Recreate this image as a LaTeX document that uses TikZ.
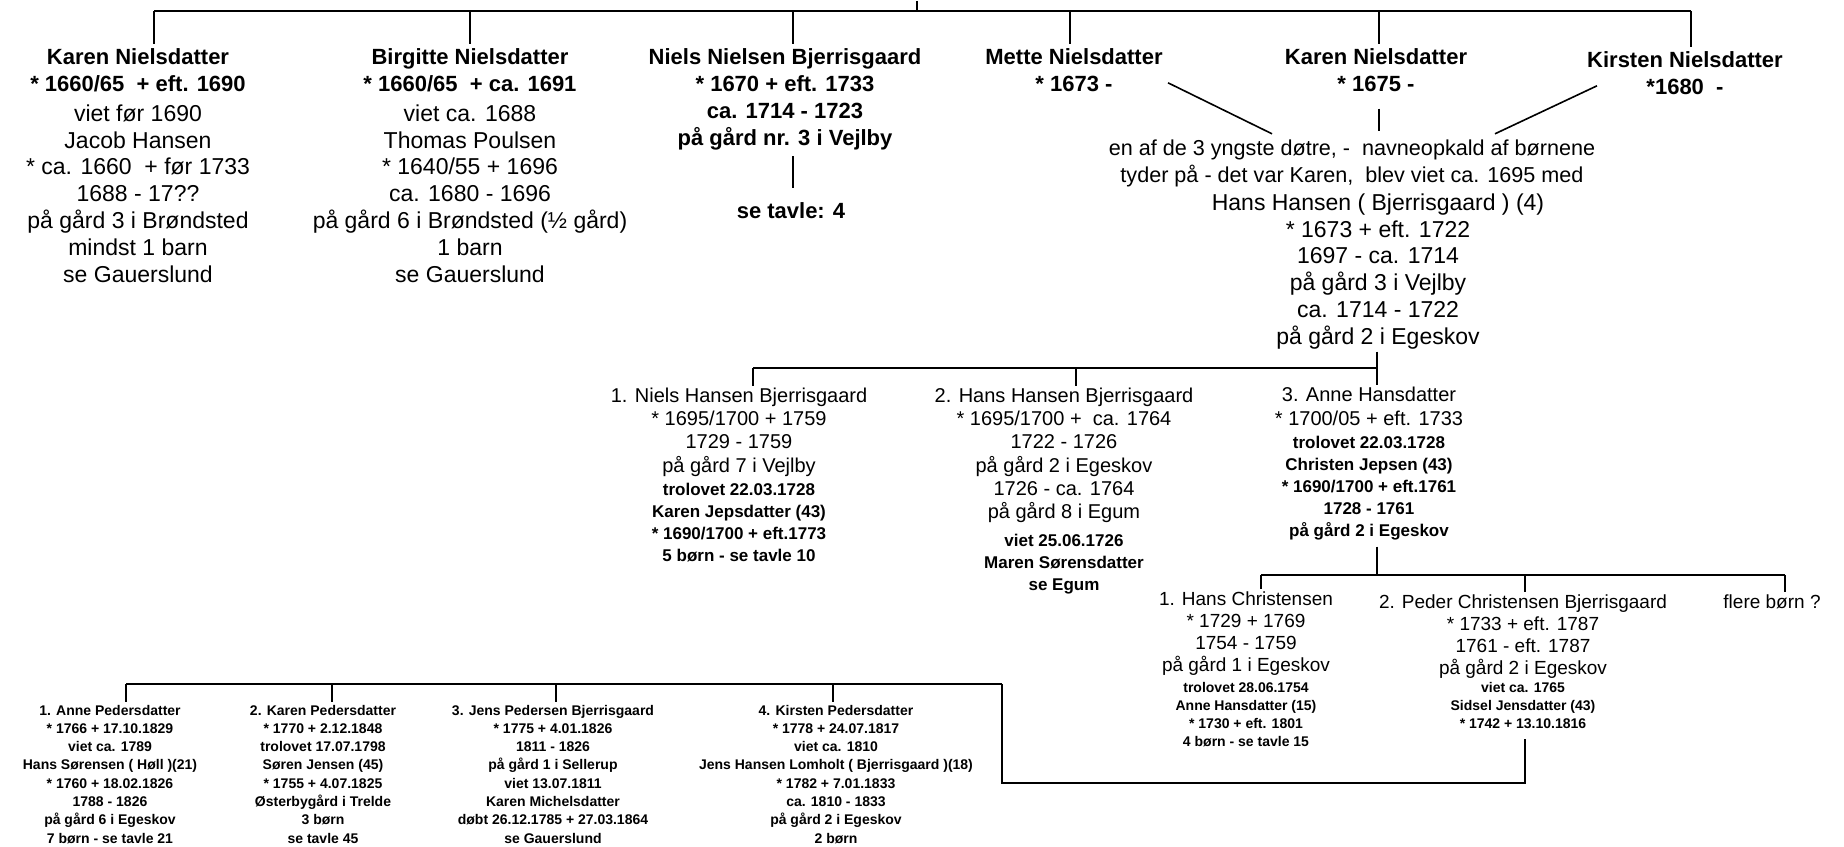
\documentclass[tikz,border=0pt]{standalone}
\usepackage{fontspec}
\setmainfont{Liberation Sans}

\begin{document}
\begin{tikzpicture}[x=0.5pt,y=-0.5pt]
\tikzset{
  every node/.style={inner sep=0pt,anchor=north,align=center},
  parent/.style={font=\fontsize{11}{13.5}\selectfont\bfseries},
  parentinfo/.style={font=\fontsize{11.5}{13.4}\selectfont},
  remark/.style={font=\fontsize{10.8}{13.2}\selectfont},
  child/.style={font=\fontsize{10}{11.6}\selectfont},
  childinfo/.style={font=\fontsize{8.5}{11}\selectfont\bfseries},
  grandchild/.style={font=\fontsize{9.5}{11}\selectfont},
  grandinfo/.style={font=\fontsize{7}{9.15}\selectfont\bfseries},
  link/.style={draw,line width=0.8pt}
}
\path[fill=white] (0,0) rectangle (1844,846);

\coordinate (root) at (917,0);
\coordinate (j1) at (154,10);
\coordinate (j2) at (470,10);
\coordinate (j3) at (793,10);
\coordinate (j4) at (1070,10);
\coordinate (j5) at (1379,10);
\coordinate (j6) at (1691,10);

\node[parent] (karenA) at (138,44) {\strut Karen Nielsdatter\\* 1660/65~ + eft. 1690};
\node[parentinfo] (karenAi) at (138,101.4) {\strut viet før 1690\\Jacob Hansen\\* ca. 1660~ + før 1733\\1688 - 17??\\på gård 3 i Brøndsted\\mindst 1 barn\\se Gauerslund};
\node[parent] (birgitte) at (470,44) {\strut Birgitte Nielsdatter\\* 1660/65~ + ca. 1691};
\node[parentinfo] (birgittei) at (470,101.4) {\strut viet ca. 1688\\Thomas Poulsen\\* 1640/55 + 1696\\ca. 1680 - 1696\\på gård 6 i Brøndsted (½ gård)\\1 barn\\se Gauerslund};
\node[parent] (niels) at (785,44) {\strut Niels Nielsen Bjerrisgaard\\* 1670 + eft. 1733\\ca. 1714 - 1723\\på gård nr. 3 i Vejlby};
\node[parent] (tavle) at (791,198) {\strut se tavle: 4};
\node[parent] (mette) at (1074,44) {\strut Mette Nielsdatter\\* 1673 -};
\node[parent] (karenB) at (1376,44) {\strut Karen Nielsdatter\\* 1675 -};
\node[parent] (kirsten) at (1685,47) {\strut Kirsten Nielsdatter\\*1680~ -};
\node[remark] (note) at (1352,136) {\strut en af de 3 yngste døtre, -~ navneopkald af børnene\\tyder på - det var Karen,~ blev viet ca. 1695 med};
\node[parentinfo] (hans) at (1378,190.4) {\strut Hans Hansen ( Bjerrisgaard ) (4)\\* 1673 + eft. 1722\\1697 - ca. 1714\\på gård 3 i Vejlby\\ca. 1714 - 1722\\på gård 2 i Egeskov};

\draw[link] (root) -- (root |- j1);
\draw[link] (j1) -- (j6);
\foreach \j/\n in {j1/karenA,j2/birgitte,j3/niels,j4/mette,j5/karenB,j6/kirsten}
  \draw[link] (\j) -- ([yshift=0.5pt]\j |- \n.north);
\draw[link] ([yshift=-3pt]niels.south -| j3) -- ([yshift=5.5pt]tavle.north -| j3);

\coordinate (ml) at (1168,82);
\coordinate (mr) at (1272,133);
\coordinate (kl) at (1597,85);
\coordinate (kr) at (1495,133);
\draw[link] (ml) -- (mr);
\draw[link] (kl) -- (kr);
\draw[link] ([yshift=-8.5pt]karenB.south -| j5) -- ([yshift=3pt]note.north -| j5);

\coordinate (k1) at (753,367);
\coordinate (k2) at (1076,367);
\coordinate (k3) at (1377,367);

\node[child] (nielsH) at (739,385) {\strut 1. Niels Hansen Bjerrisgaard\\* 1695/1700 + 1759\\1729 - 1759\\på gård 7 i Vejlby};
\node[childinfo] (nielsHi) at (739,478.7) {\strut trolovet 22.03.1728\\Karen Jepsdatter (43)\\* 1690/1700 + eft.1773\\5 børn - se tavle 10};
\node[child] (hansH) at (1064,385) {\strut 2. Hans Hansen Bjerrisgaard\\* 1695/1700 +~ ca. 1764\\1722 - 1726\\på gård 2 i Egeskov\\1726 - ca. 1764\\på gård 8 i Egum};
\node[childinfo] (hansHi) at (1064,529.7) {\strut viet 25.06.1726\\Maren Sørensdatter\\se Egum};
\node[child] (anneH) at (1369,384.5) {\strut 3. Anne Hansdatter\\* 1700/05 + eft. 1733};
\node[childinfo] (anneHi) at (1369,432) {\strut trolovet 22.03.1728\\Christen Jepsen (43)\\* 1690/1700 + eft.1761\\1728 - 1761\\på gård 2 i Egeskov};

\draw[link] ([yshift=-1pt]hans.south -| k3) -- (k3 |- anneH.north);
\draw[link] (k1) -- (k3);
\draw[link] (k1) -- (k1 |- nielsH.north);
\draw[link] (k2) -- (k2 |- hansH.north);

\coordinate (m1) at (1261,574);
\coordinate (m2) at (1525,574);
\coordinate (m3) at (1785,574);

\node[grandchild] (hansC) at (1246,588.4) {\strut 1. Hans Christensen\\* 1729 + 1769\\1754 - 1759\\på gård 1 i Egeskov};
\node[grandinfo] (hansCi) at (1246,678) {\strut trolovet 28.06.1754\\Anne Hansdatter (15)\\* 1730 + eft. 1801\\4 børn - se tavle 15};
\node[grandchild] (pederC) at (1523,591.4) {\strut 2. Peder Christensen Bjerrisgaard\\* 1733 + eft. 1787\\1761 - eft. 1787\\på gård 2 i Egeskov};
\node[grandinfo] (pederCi) at (1523,678) {\strut viet ca. 1765\\Sidsel Jensdatter (43)\\* 1742 + 13.10.1816};
\node[grandchild] (flere) at (1772,591.4) {\strut flere børn ?};

\draw[link] ([yshift=-3pt]anneHi.south -| k3) -- (k3 |- m1);
\draw[link] (m1) -- (m3);
\draw[link] (m1) -- (m1 |- hansC.north);
\draw[link] (m2) -- (m2 |- pederC.north);
\draw[link] (m3) -- (m3 |- flere.north);

\coordinate (g1) at (126,683);
\coordinate (g2) at (332,683);
\coordinate (g3) at (556,683);
\coordinate (g4) at (833,683);
\coordinate (g5) at (1002,683);
\coordinate (low) at (1002,782);

\node[grandinfo] (anneP) at (110,701) {\strut 1. Anne Pedersdatter\\* 1766 + 17.10.1829\\viet ca. 1789\\Hans Sørensen ( Høll )(21)\\* 1760 + 18.02.1826\\1788 - 1826\\på gård 6 i Egeskov\\7 børn - se tavle 21};
\node[grandinfo] (karenP) at (323,701) {\strut 2. Karen Pedersdatter\\* 1770 + 2.12.1848\\trolovet 17.07.1798\\Søren Jensen (45)\\* 1755 + 4.07.1825\\Østerbygård i Trelde\\3 børn\\se tavle 45};
\node[grandinfo] (jensP) at (553,701) {\strut 3. Jens Pedersen Bjerrisgaard\\* 1775 + 4.01.1826\\1811 - 1826\\på gård 1 i Sellerup\\viet 13.07.1811\\Karen Michelsdatter\\døbt 26.12.1785 + 27.03.1864\\se Gauerslund};
\node[grandinfo] (kirstenP) at (836,701) {\strut 4. Kirsten Pedersdatter\\* 1778 + 24.07.1817\\viet ca. 1810\\Jens Hansen Lomholt ( Bjerrisgaard )(18)\\* 1782 + 7.01.1833\\ca. 1810 - 1833\\på gård 2 i Egeskov\\2 børn};

\draw[link] ([yshift=-5pt]pederCi.south -| m2) |- (low) -- (g5);
\draw[link] (g1) -- (g5);
\foreach \g/\n in {g1/anneP,g2/karenP,g3/jensP,g4/kirstenP}
  \draw[link] (\g) -- (\g |- \n.north);
\end{tikzpicture}
\end{document}
